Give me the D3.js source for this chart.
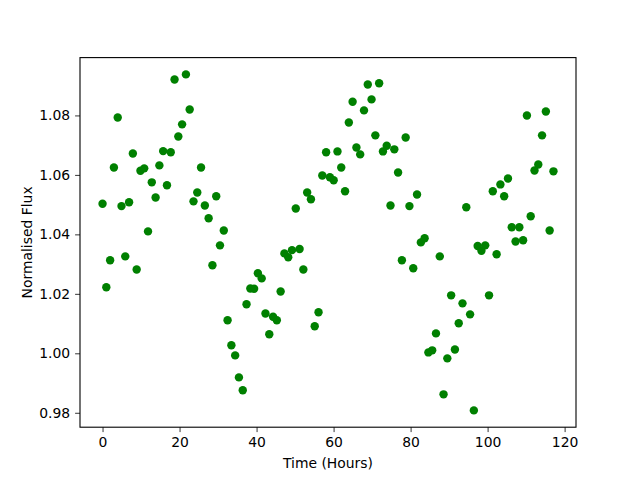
<!DOCTYPE html>
<html>
<head>
<meta charset="utf-8">
<script src="https://cdn.jsdelivr.net/npm/d3@7"></script>
<style>
  body { margin: 0; background: #fff; }
  svg text { font-family: "DejaVu Sans", sans-serif; fill: #000; }
</style>
</head>
<body>
<script>
'use strict';

// time of each sample (hours)
const hours = [
  0, 0.98, 1.97, 2.95, 3.94, 4.92, 5.90, 6.89, 7.87, 8.86,
  9.84, 10.82, 11.81, 12.79, 13.78, 14.76, 15.74, 16.73, 17.71, 18.70,
  19.68, 20.66, 21.65, 22.63, 23.62, 24.60, 25.58, 26.57, 27.55, 28.54,
  29.52, 30.50, 31.49, 32.47, 33.46, 34.44, 35.42, 36.41, 37.39, 38.38,
  39.36, 40.34, 41.33, 42.31, 43.30, 44.28, 45.26, 46.25, 47.23, 48.22,
  49.20, 50.18, 51.17, 52.15, 53.14, 54.12, 55.10, 56.09, 57.07, 58.06,
  59.04, 60.02, 61.01, 61.99, 62.98, 63.96, 64.94, 65.93, 66.91, 67.90,
  68.88, 69.86, 70.85, 71.83, 72.82, 73.80, 74.78, 75.77, 76.75, 77.74,
  78.72, 79.70, 80.69, 81.67, 82.66, 83.64, 84.62, 85.61, 86.59, 87.58,
  88.56, 89.54, 90.53, 91.51, 92.50, 93.48, 94.46, 95.45, 96.43, 97.42,
  98.40, 99.38, 100.37, 101.35, 102.34, 103.32, 104.30, 105.29, 106.27, 107.26,
  108.24, 109.22, 110.21, 111.19, 112.18, 113.16, 114.14, 115.13, 116.11, 117.10
];

// normalised flux for each sample
const flux = [
  1.0503, 1.0222, 1.0313, 1.0625, 1.0793, 1.0495, 1.0326, 1.0508, 1.0672, 1.0282,
  1.0614, 1.0622, 1.0410, 1.0575, 1.0524, 1.0632, 1.0680, 1.0565, 1.0676, 1.0921,
  1.0729, 1.0770, 1.0938, 1.0820, 1.0511, 1.0541, 1.0625, 1.0497, 1.0454, 1.0296,
  1.0528, 1.0363, 1.0413, 1.0111, 1.0027, 0.9993, 0.9919, 0.9876, 1.0165, 1.0218,
  1.0217, 1.0269, 1.0252, 1.0134, 1.0064, 1.0123, 1.0111, 1.0208, 1.0336, 1.0323,
  1.0347, 1.0487, 1.0351, 1.0282, 1.0541, 1.0518, 1.0091, 1.0138, 1.0598, 1.0676,
  1.0592, 1.0582, 1.0679, 1.0625, 1.0545, 1.0776, 1.0846, 1.0692, 1.0669, 1.0817,
  1.0904, 1.0854, 1.0733, 1.0908, 1.0679, 1.0698, 1.0497, 1.0686, 1.0608, 1.0313,
  1.0726, 1.0495, 1.0286, 1.0534, 1.0373, 1.0387, 1.0003, 1.0010, 1.0067, 1.0326,
  0.9862, 0.9983, 1.0195, 1.0013, 1.0101, 1.0168, 1.0491, 1.0131, 0.9808, 1.0361,
  1.0345, 1.0363, 1.0195, 1.0545, 1.0333, 1.0568, 1.0528, 1.0588, 1.0424, 1.0376,
  1.0424, 1.0380, 1.0800, 1.0461, 1.0615, 1.0635, 1.0733, 1.0813, 1.0413, 1.0612
];

const xTicks = [0, 20, 40, 60, 80, 100, 120];
const yTicks = [0.98, 1.00, 1.02, 1.04, 1.06, 1.08];

(function () {
  const width = 640, height = 480;
  const box = { left: 80, right: 576, top: 57.6, bottom: 427.2 };

  let svg = d3.select('body')
    .append('svg')
    .attr('width', width)
    .attr('height', height);

  // pad the data range by 5% like matplotlib does
  function padded(arr) {
    let lo = d3.min(arr), hi = d3.max(arr);
    let m = (hi - lo) * 0.05;
    return [lo - m, hi + m];
  }

  let xScale = d3.scaleLinear().domain(padded(hours)).range([box.left, box.right]);
  let yScale = d3.scaleLinear().domain(padded(flux)).range([box.bottom, box.top]);

  let rows = hours.map((h, i) => ({ time: h, flux: flux[i] }));

  // points
  svg.append('g')
    .selectAll('circle')
    .data(rows)
    .enter()
    .append('circle')
    .attr('cx', d => xScale(d.time))
    .attr('cy', d => yScale(d.flux))
    .attr('r', 4.2)
    .attr('fill', '#008000');

  // x axis
  let xAxis = d3.axisBottom(xScale).tickValues(xTicks).tickFormat(d3.format('d'))
    .tickSize(4.9).tickPadding(4.9);
  let gx = svg.append('g')
    .attr('transform', 'translate(0,' + box.bottom + ')')
    .call(xAxis);

  // y axis
  let yAxis = d3.axisLeft(yScale).tickValues(yTicks).tickFormat(d3.format('.2f'))
    .tickSize(4.9).tickPadding(4.9);
  let gy = svg.append('g')
    .attr('transform', 'translate(' + box.left + ',0)')
    .call(yAxis);

  [gx, gy].forEach(g => {
    g.select('.domain').remove();
    g.selectAll('.tick line').attr('stroke', '#000').attr('stroke-width', 0.8);
    g.selectAll('.tick text')
      .style('font-family', '"DejaVu Sans", sans-serif')
      .style('font-size', '13.9px')
      .attr('fill', '#000');
  });

  // frame
  svg.append('rect')
    .attr('x', box.left)
    .attr('y', box.top)
    .attr('width', box.right - box.left)
    .attr('height', box.bottom - box.top)
    .attr('fill', 'none')
    .attr('stroke', '#000')
    .attr('stroke-width', 1.1);

  // axis labels
  svg.append('text')
    .attr('x', (box.left + box.right) / 2)
    .attr('y', 468)
    .attr('text-anchor', 'middle')
    .style('font-size', '13.9px')
    .text('Time (Hours)');

  svg.append('text')
    .attr('transform', 'translate(32,' + ((box.top + box.bottom) / 2) + ')rotate(-90)')
    .attr('text-anchor', 'middle')
    .style('font-size', '13.9px')
    .text('Normalised Flux');
})();
</script>
</body>
</html>
